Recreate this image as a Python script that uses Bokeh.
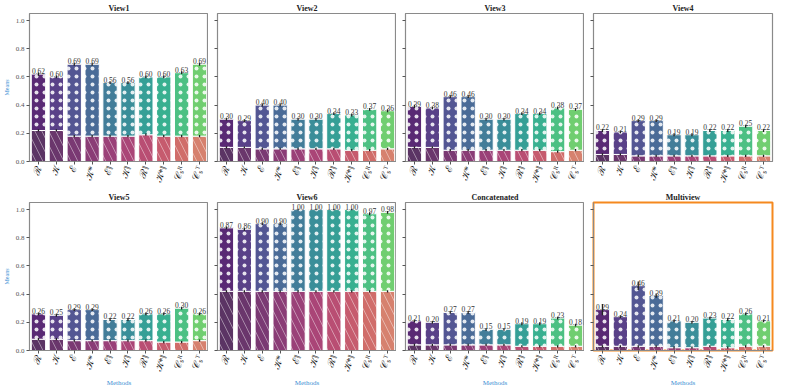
import numpy as np
from bokeh.plotting import figure
from bokeh.layouts import gridplot
from bokeh.models import ColumnDataSource, Range1d, FixedTicker
from bokeh.core.properties import value
from bokeh.palettes import Viridis256
from bokeh.embed import file_html
from bokeh.resources import INLINE

# ---------------- data ----------------
methods = ["ℛ", "𝒦", "ℰ", "𝒦*", "ℰ‖", "𝒦‖", "ℛ‖", "𝒦*‖", "𝒞ₛᴿ", "𝒞ₛᵀ"]
panel_titles = ["View1", "View2", "View3", "View4", "View5", "View6", "Concatenated", "Multiview"]
y_ticks = [0.0, 0.2, 0.4, 0.6, 0.8, 1.0]
y_tick_labels = ["0.0", "0.2", "0.4", "0.6", "0.8", "1.0"]

view1_means = [0.62, 0.60, 0.69, 0.69, 0.56, 0.56, 0.60, 0.60, 0.63, 0.69]
view1_base = [0.22, 0.22, 0.18, 0.18, 0.18, 0.18, 0.19, 0.18, 0.18, 0.18]
view1_err = [0.012, 0.01, 0.01, 0.01, 0.01, 0.01, 0.01, 0.01, 0.01, 0.01]

view2_means = [0.30, 0.29, 0.40, 0.40, 0.30, 0.30, 0.34, 0.33, 0.37, 0.36]
view2_base = [0.10, 0.10, 0.09, 0.09, 0.09, 0.09, 0.09, 0.08, 0.08, 0.09]
view2_err = [0.01, 0.01, 0.01, 0.01, 0.01, 0.01, 0.01, 0.01, 0.01, 0.01]

view3_means = [0.39, 0.38, 0.46, 0.46, 0.30, 0.30, 0.34, 0.34, 0.38, 0.37]
view3_base = [0.10, 0.10, 0.08, 0.08, 0.08, 0.08, 0.08, 0.08, 0.07, 0.08]
view3_err = [0.012, 0.01, 0.01, 0.01, 0.01, 0.01, 0.01, 0.01, 0.01, 0.01]

view4_means = [0.22, 0.21, 0.29, 0.29, 0.19, 0.19, 0.22, 0.22, 0.25, 0.22]
view4_base = [0.05, 0.05, 0.04, 0.04, 0.04, 0.04, 0.04, 0.04, 0.04, 0.04]
view4_err = [0.01, 0.01, 0.01, 0.01, 0.01, 0.01, 0.01, 0.01, 0.01, 0.01]

view5_means = [0.26, 0.25, 0.29, 0.29, 0.22, 0.22, 0.26, 0.26, 0.30, 0.26]
view5_base = [0.08, 0.08, 0.07, 0.07, 0.07, 0.07, 0.07, 0.06, 0.06, 0.07]
view5_err = [0.01, 0.01, 0.01, 0.01, 0.01, 0.01, 0.01, 0.01, 0.01, 0.01]

view6_means = [0.87, 0.86, 0.90, 0.90, 1.00, 1.00, 1.00, 1.00, 0.97, 0.98]
view6_base = [0.42, 0.42, 0.42, 0.42, 0.42, 0.42, 0.42, 0.42, 0.42, 0.42]
view6_err = [0.01, 0.01, 0.01, 0.01, 0.005, 0.005, 0.005, 0.005, 0.01, 0.01]

concat_means = [0.21, 0.20, 0.27, 0.27, 0.15, 0.15, 0.19, 0.19, 0.23, 0.18]
concat_base = [0.04, 0.04, 0.04, 0.04, 0.04, 0.04, 0.03, 0.03, 0.03, 0.03]
concat_err = [0.01, 0.01, 0.01, 0.01, 0.01, 0.01, 0.01, 0.01, 0.01, 0.01]

multi_means = [0.29, 0.24, 0.46, 0.39, 0.21, 0.20, 0.23, 0.22, 0.26, 0.21]
multi_base = [0.03, 0.03, 0.03, 0.03, 0.02, 0.02, 0.03, 0.02, 0.03, 0.03]
multi_err = [0.04, 0.01, 0.03, 0.015, 0.01, 0.01, 0.01, 0.01, 0.01, 0.01]

panel_means = [view1_means, view2_means, view3_means, view4_means,
               view5_means, view6_means, concat_means, multi_means]
panel_base = [view1_base, view2_base, view3_base, view4_base,
              view5_base, view6_base, concat_base, multi_base]
panel_err = [view1_err, view2_err, view3_err, view4_err,
             view5_err, view6_err, concat_err, multi_err]

# ---------------- styles ----------------
SERIF = "Liberation Serif"
top_colors = [Viridis256[int(t * 255)] for t in np.linspace(0.05, 0.76, 10)]
base_colors = ["#52295c", "#622b64", "#732e6b", "#84316f", "#953671",
               "#a53b70", "#b5446b", "#c35266", "#cd6562", "#d47a66"]
LABEL_BLUE = "#3b8fd4"
FRAME_GRAY = "#8a8a8a"

FRAME_W, FRAME_H = 179, 148


def make_panel(idx):
    row, col = divmod(idx, 4)
    left = 22 if col == 0 else 9
    right = 4 if col == 3 else 0
    bottom = 31 if row == 1 else 24
    p = figure(frame_width=FRAME_W, frame_height=FRAME_H,
               x_range=Range1d(-0.5, 9.5), y_range=Range1d(0, 1.05),
               output_backend="svg", toolbar_location=None,
               min_border_left=left, min_border_right=right,
               min_border_bottom=bottom, min_border_top=2,
               title=panel_titles[idx])
    xs = list(range(10))
    means = panel_means[idx]
    base = panel_base[idx]
    err = panel_err[idx]
    src = ColumnDataSource(dict(
        x=xs, mean=means, base=base,
        top_color=top_colors, base_color=base_colors,
        mlo=[m - e for m, e in zip(means, err)],
        mhi=[m + e for m, e in zip(means, err)],
        blo=[b - 0.008 for b in base], bhi=[b + 0.008 for b in base],
        label=["%.2f" % m for m in means],
    ))
    p.vbar(x="x", bottom=0, top="base", width=0.8, source=src,
           fill_color="base_color", fill_alpha=0.95, line_color="white", line_width=1,
           hatch_pattern="\\", hatch_color="white", hatch_alpha=0.6,
           hatch_scale=14, hatch_weight=0.7)
    p.vbar(x="x", bottom="base", top="mean", width=0.8, source=src,
           fill_color="top_color", fill_alpha=0.9, line_color="white", line_width=1,
           hatch_pattern="dot", hatch_color="white", hatch_alpha=0.85,
           hatch_scale=8, hatch_weight=0.8)
    p.segment(x0="x", x1="x", y0="mlo", y1="mhi", source=src,
              line_color="#222222", line_width=1.3)
    p.segment(x0="x", x1="x", y0="blo", y1="bhi", source=src,
              line_color="#222222", line_width=1.3)
    p.text(x="x", y="mean", text="label", source=src,
           text_font=value(SERIF), text_font_size="7.5px", text_color="#333333",
           text_align="center", text_baseline="bottom", y_offset=0)

    # title
    p.title.text_font = SERIF
    p.title.text_font_style = "bold"
    p.title.text_font_size = "8px"
    p.title.text_color = "#222222"
    p.title.align = "center"
    p.title.standoff = 2

    p.grid.visible = False
    p.background_fill_color = "white"
    p.border_fill_color = "white"
    if idx == 7:
        p.outline_line_color = "#f5891f"
        p.outline_line_width = 2
    else:
        p.outline_line_color = FRAME_GRAY
        p.outline_line_width = 1.2

    # x axis
    xa = p.xaxis[0]
    xa.ticker = FixedTicker(ticks=xs)
    xa.major_label_overrides = {i: m for i, m in enumerate(methods)}
    xa.major_label_orientation = 1.22
    xa.major_label_text_font = SERIF
    xa.major_label_text_font_size = "10px"
    xa.major_label_text_color = "#222222"
    xa.major_label_standoff = 2
    xa.major_tick_out = 3
    xa.major_tick_in = 0
    xa.minor_tick_line_color = None
    xa.axis_line_color = FRAME_GRAY
    xa.major_tick_line_color = "#555555"
    if row == 1:
        xa.axis_label = "Methods"
        xa.axis_label_text_font = SERIF
        xa.axis_label_text_font_style = "normal"
        xa.axis_label_text_font_size = "7px"
        xa.axis_label_text_color = LABEL_BLUE
        xa.axis_label_standoff = 1

    # y axis
    ya = p.yaxis[0]
    ya.ticker = FixedTicker(ticks=y_ticks)
    ya.major_tick_out = 3
    ya.major_tick_in = 0
    ya.minor_tick_line_color = None
    ya.axis_line_color = FRAME_GRAY
    ya.major_tick_line_color = "#555555"
    if col == 0:
        ya.major_label_overrides = {t: l for t, l in zip(y_ticks, y_tick_labels)}
        ya.major_label_text_font = SERIF
        ya.major_label_text_font_size = "7px"
        ya.major_label_text_color = "#555555"
        ya.major_label_standoff = 2
        ya.axis_label = "Means"
        ya.axis_label_text_font = SERIF
        ya.axis_label_text_font_style = "normal"
        ya.axis_label_text_font_size = "6px"
        ya.axis_label_text_color = LABEL_BLUE
        ya.axis_label_standoff = 3
    else:
        ya.major_label_text_font_size = "1px"
        ya.major_label_text_color = None
        ya.major_label_standoff = 0
    return p


figs = [make_panel(i) for i in range(8)]
grid = gridplot([figs[:4], figs[4:]], toolbar_location=None)

open("out.html", "w").write(file_html(grid, INLINE))
